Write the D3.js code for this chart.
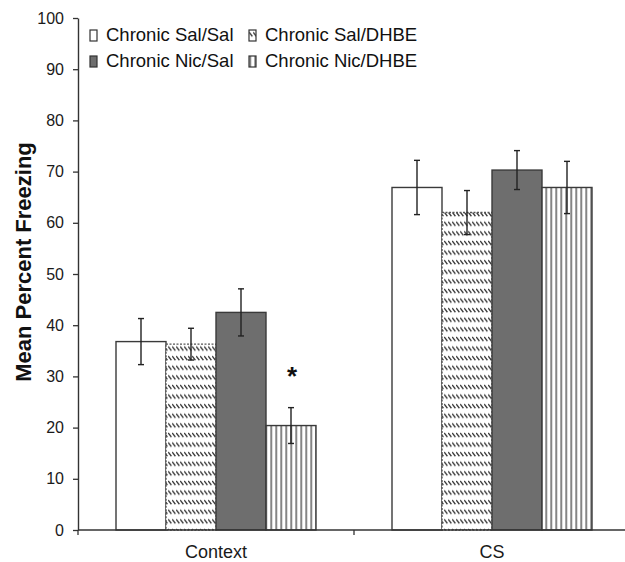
<!DOCTYPE html>
<html>
<head>
<meta charset="utf-8">
<script src="https://cdn.jsdelivr.net/npm/d3@7"></script>
<style>
  html, body { margin: 0; padding: 0; background: #fff; }
  svg { display: block; font-family: "Liberation Sans", Arial, sans-serif; }
</style>
</head>
<body>
<div id="chart"></div>
<script>
// data
const categories = ['Context', 'CS'];
const groups = ['Chronic Sal/Sal', 'Chronic Sal/DHBE', 'Chronic Nic/Sal', 'Chronic Nic/DHBE'];
const contextMeans = [36.8, 36.3, 42.5, 20.4];
const contextSem   = [4.5, 3.1, 4.6, 3.5];
const csMeans      = [66.9, 62.0, 70.3, 66.9];
const csSem        = [5.3, 4.3, 3.8, 5.1];
const yTicks = [0, 10, 20, 30, 40, 50, 60, 70, 80, 90, 100];
const significant = [{cat: 'Context', group: 'Chronic Nic/DHBE'}];

const rows = [];
groups.forEach((g, i) => {
  rows.push({cat: 'Context', group: g, mean: contextMeans[i], sem: contextSem[i]});
  rows.push({cat: 'CS', group: g, mean: csMeans[i], sem: csSem[i]});
});

const width = 625, height = 562;
const svg = d3.select('#chart').append('svg').attr('width', width).attr('height', height);

const defs = svg.append('defs');
// small backslash dashes in rows
const hatch = defs.append('pattern').attr('id', 'hatch').attr('patternUnits', 'userSpaceOnUse')
  .attr('width', 4).attr('height', 9.6);
hatch.append('rect').attr('width', 4).attr('height', 9.6).attr('fill', '#fff');
hatch.append('path').attr('d', 'M0.2,1 L3.4,5').attr('stroke', '#333').attr('stroke-width', 1.3);
// vertical stripes
const vstripe = defs.append('pattern').attr('id', 'vstripe').attr('patternUnits', 'userSpaceOnUse')
  .attr('width', 5).attr('height', 10).attr('x', 0.5);
vstripe.append('rect').attr('width', 5).attr('height', 10).attr('fill', '#fff');
vstripe.append('line').attr('x1', 0.7).attr('x2', 0.7).attr('y1', 0).attr('y2', 10)
  .attr('stroke', '#444').attr('stroke-width', 1.3);

const fills = {
  'Chronic Sal/Sal': '#ffffff',
  'Chronic Sal/DHBE': 'url(#hatch)',
  'Chronic Nic/Sal': '#6e6e6e',
  'Chronic Nic/DHBE': 'url(#vstripe)'
};

const x0 = d3.scaleBand().domain(categories).range([78, 630]);
const x1 = d3.scaleBand().domain(groups).range([0, 200]);
const groupOffset = (x0.bandwidth() - 200) / 2;
const y = d3.scaleLinear().domain([0, 100]).range([530, 18]);

// bars
const bars = svg.append('g');
bars.selectAll('rect').data(rows).join('rect')
  .attr('x', d => x0(d.cat) + groupOffset + x1(d.group))
  .attr('y', d => y(d.mean))
  .attr('width', x1.bandwidth())
  .attr('height', d => y(0) - y(d.mean))
  .attr('fill', d => fills[d.group])
  .attr('stroke', d => d.group === 'Chronic Sal/DHBE' ? '#555' : '#3a3a3a')
  .attr('stroke-width', 1.4)
  .attr('stroke-dasharray', d => d.group === 'Chronic Sal/DHBE' ? '2,1.5' : null);

// error bars
const err = svg.append('g').attr('stroke', '#222').attr('stroke-width', 1.4);
const cx = d => x0(d.cat) + groupOffset + x1(d.group) + x1.bandwidth() / 2;
err.selectAll('line.v').data(rows).join('line').attr('class', 'v')
  .attr('x1', cx).attr('x2', cx)
  .attr('y1', d => y(d.mean + d.sem)).attr('y2', d => y(d.mean - d.sem));
err.selectAll('line.t').data(rows).join('line').attr('class', 't')
  .attr('x1', d => cx(d) - 3).attr('x2', d => cx(d) + 3)
  .attr('y1', d => y(d.mean + d.sem)).attr('y2', d => y(d.mean + d.sem));
err.selectAll('line.b').data(rows).join('line').attr('class', 'b')
  .attr('x1', d => cx(d) - 3).attr('x2', d => cx(d) + 3)
  .attr('y1', d => y(d.mean - d.sem)).attr('y2', d => y(d.mean - d.sem));

// significance star
svg.selectAll('text.star').data(significant).join('text').attr('class', 'star')
  .attr('x', d => x0(d.cat) + groupOffset + x1(d.group) + x1.bandwidth() / 2 + 1)
  .attr('y', d => {
    const r = rows.find(q => q.cat === d.cat && q.group === d.group);
    return y(r.mean + r.sem) - 23;
  })
  .attr('text-anchor', 'middle')
  .attr('font-size', 26).attr('font-weight', 'bold').attr('fill', '#111')
  .text('*');

// y axis
const yAxis = svg.append('g').attr('transform', 'translate(78,0)')
  .call(d3.axisLeft(y).tickValues(yTicks).tickSize(5).tickPadding(9).tickSizeOuter(0));
yAxis.select('.domain').attr('stroke', '#333').attr('stroke-width', 1.4);
yAxis.selectAll('.tick line').attr('stroke', '#333').attr('stroke-width', 1.3);
yAxis.selectAll('.tick text').attr('font-size', 16).attr('fill', '#1a1a1a')
  .attr('font-family', '"Liberation Sans", Arial, sans-serif');

// x axis: ticks at category boundaries
svg.append('line').attr('x1', 78).attr('x2', width).attr('y1', y(0)).attr('y2', y(0))
  .attr('stroke', '#333').attr('stroke-width', 1.4);
const bounds = categories.map(c => x0(c));
svg.selectAll('line.xtick').data(bounds).join('line').attr('class', 'xtick')
  .attr('x1', d => d).attr('x2', d => d).attr('y1', y(0)).attr('y2', y(0) + 5)
  .attr('stroke', '#333').attr('stroke-width', 1.3);
svg.selectAll('text.xlab').data(categories).join('text').attr('class', 'xlab')
  .attr('x', d => x0(d) + x0.bandwidth() / 2)
  .attr('y', 558)
  .attr('text-anchor', 'middle').attr('font-size', 18).attr('fill', '#1a1a1a')
  .text(d => d);

// y title
svg.append('text')
  .attr('transform', 'translate(31,262) rotate(-90)')
  .attr('text-anchor', 'middle').attr('font-size', 22).attr('font-weight', 'bold').attr('fill', '#111')
  .text('Mean Percent Freezing');

// legend
const legPos = [[90, 41], [249, 41], [90, 67], [249, 67]];
const leg = svg.append('g').selectAll('g').data(groups).join('g')
  .attr('transform', (d, i) => `translate(${legPos[i][0]},${legPos[i][1]})`);
leg.append('rect').attr('x', 0).attr('y', -11).attr('width', 7).attr('height', 11)
  .attr('fill', d => fills[d]).attr('stroke', '#333').attr('stroke-width', 1.2);
leg.append('text').attr('x', 16).attr('y', 0)
  .attr('font-size', 18.5).attr('fill', '#111')
  .text(d => d);
</script>
</body>
</html>
